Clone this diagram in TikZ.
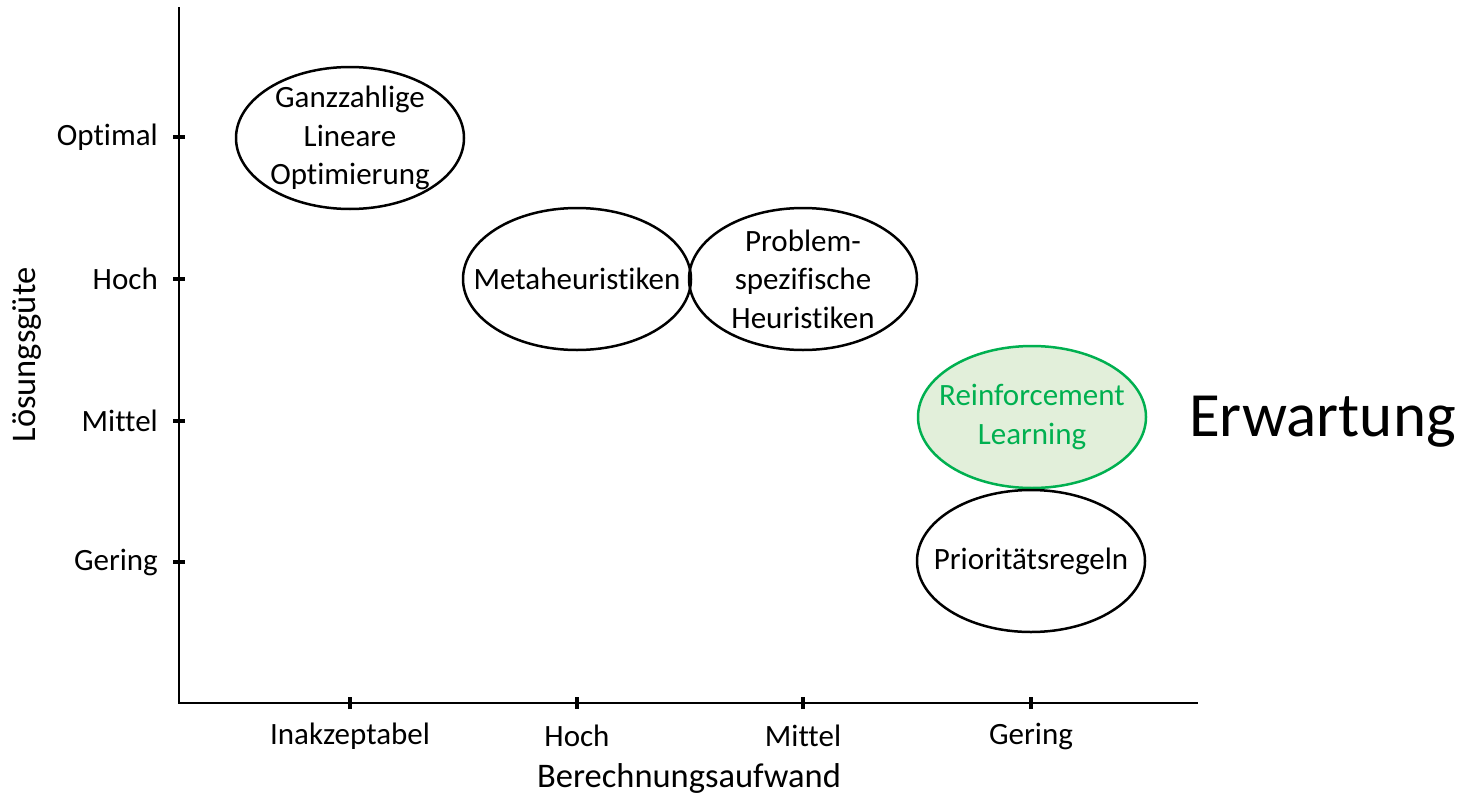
\documentclass[tikz,border=0pt]{standalone}
\usepackage{fontspec}
\setmainfont{Carlito}[Ligatures=NoCommon]
\usetikzlibrary{shapes.geometric}
\definecolor{rlgreen}{HTML}{00B050}
\definecolor{rlfill}{HTML}{E2EFDA}
\begin{document}
\begin{tikzpicture}[x=1pt,y=-1pt,
  axis/.style={line width=2.5pt},
  tick/.style={line width=4pt},
  lbl/.style={font=\fontsize{31}{38}\selectfont, inner sep=0pt},
  ttl/.style={font=\fontsize{34.5}{41}\selectfont, inner sep=0pt},
  method/.style={ellipse, draw, line width=2.5pt, minimum width=228pt, minimum height=142pt,
    inner xsep=-40pt, inner ysep=-25pt, align=center, font=\fontsize{31}{38.5}\selectfont},
  hilite/.style={method, draw=rlgreen, fill=rlfill, text=rlgreen}]
\useasboundingbox (0,0) rectangle (1472,795);

% axes
\coordinate (origin) at (179,703);
\coordinate (ytop) at (179,7);
\coordinate (xend) at (1198,703);
\draw[axis] (ytop) -- (origin) -- (xend);

% y ticks and labels
\foreach \yy/\name/\txt in {137/opt/Optimal, 279/hoch/Hoch, 421/mit/Mittel, 562/ger/Gering}{
  \coordinate (yt-\name) at (179,\yy);
  \draw[tick] ([xshift=-6pt]yt-\name) -- ([xshift=6pt]yt-\name);
  \node[lbl, anchor=east] (yl-\name) at (158,\yy) {\txt};
}

% x ticks and labels
\foreach \xx/\name/\txt in {350/ina/Inakzeptabel, 577/hoch/Hoch, 803/mit/Mittel, 1031/ger/Gering}{
  \coordinate (xt-\name) at (\xx,703);
  \draw[tick] ([yshift=-6pt]xt-\name) -- ([yshift=6pt]xt-\name);
  \node[lbl] (xl-\name) at (\xx,736) {\txt};
}

% axis titles
\node[ttl] (xtitle) at (689,778) {Berechnungsaufwand};
\node[ttl, rotate=90] (ytitle) at (27,355) {Lösungsgüte};

% methods
\node[method] (ilp) at (350,138) {Ganzzahlige\\Lineare\\Optimierung};
\node[method] (meta) at (577,279) {Metaheuristiken};
\node[method] (psh) at (803,279) {Problem-\\spezifische\\Heuristiken};
\node[hilite] (rl) at (1032,417) {Reinforcement\\Learning};
\node[method] (prio) at (1031,561) {Prioritätsregeln};

% annotation
\node[font=\fontsize{63}{70}\selectfont, inner sep=0pt, anchor=west] (erw) at (1189,422) {Erwartung};
\end{tikzpicture}
\end{document}
